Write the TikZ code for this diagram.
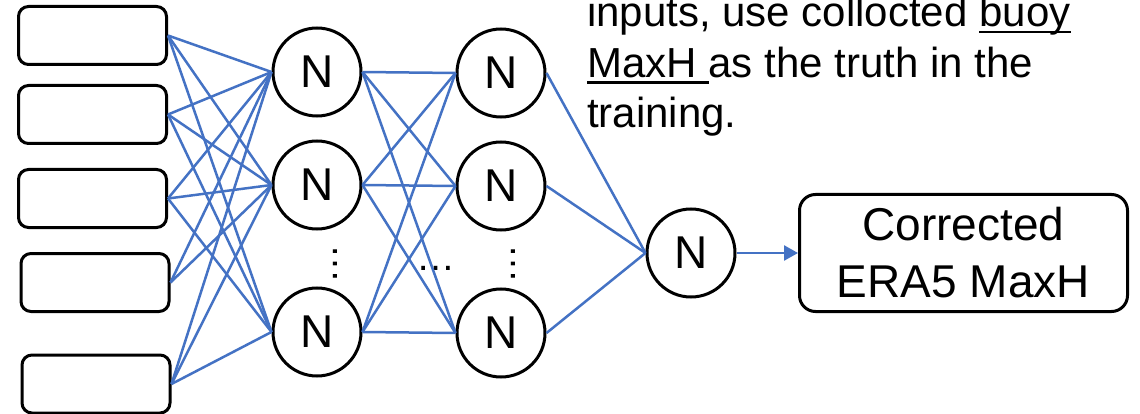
\documentclass[tikz,border=0pt]{standalone}
\usepackage{fontspec}
\setmainfont{Liberation Sans}
\usetikzlibrary{arrows.meta}
\definecolor{linkblue}{HTML}{4472C4}
\newcommand{\ulx}[1]{\setbox0\hbox{#1}\rlap{\rule[-6.5pt]{\wd0}{2.5pt}}\box0}
\begin{document}
\begin{tikzpicture}[x=1pt,y=-1pt,
  inbox/.style={draw=black,line width=3pt,rounded corners=10pt,minimum width=148pt,minimum height=58pt,inner sep=0pt},
  neuron/.style={draw=black,circle,line width=3pt,minimum size=88pt,inner sep=0pt,font=\fontsize{46}{46}\selectfont},
  link/.style={draw=linkblue,line width=2.5pt},
  dotsn/.style={inner sep=0pt,font=\fontsize{39}{39}\selectfont}
]
\fill[white] (0,0) rectangle (1140,414);
\useasboundingbox (0,0) rectangle (1140,414);

% input boxes
\node[inbox] (i1) at (92.5,35.5) {};
\node[inbox] (i2) at (92.5,114.5) {};
\node[inbox] (i3) at (92.5,198.5) {};
\node[inbox] (i4) at (95,282.5) {};
\node[inbox] (i5) at (96,384) {};

% hidden layer 1
\node[neuron] (a1) at (317,72) {N};
\node[neuron] (a2) at (317,185) {N};
\node[neuron] (a3) at (317,332) {N};

% hidden layer 2
\node[neuron] (b1) at (501,73) {N};
\node[neuron] (b2) at (501,186) {N};
\node[neuron] (b3) at (501,333) {N};

% output neuron
\node[neuron] (o) at (691,253) {N};

% result box
\node[draw=black,line width=3pt,rounded corners=16pt,minimum width=328pt,minimum height=117pt,align=center,inner sep=0pt,font=\fontsize{46}{57}\selectfont] (res) at (963.5,253) {Corrected\\ERA5 MaxH};

% dots
\node[dotsn,rotate=90,anchor=base] (v1) at (337,264) {…};
\node[dotsn,rotate=90,anchor=base] (v2) at (515,264) {…};
\node[dotsn,anchor=base] (h1) at (436,270) {…};

% note text (anchor on the baseline of the last line)
\node[anchor=base west,align=left,inner sep=0pt,font=\fontsize{42}{50.5}\selectfont] (note) at (587,128)
  {inputs, use collocted \ulx{buoy}\\\ulx{MaxH\ }as the truth in the\\training.};

% connections input -> layer 1
\foreach \s in {i1,i2,i3,i5}{
  \foreach \t in {a1,a2,a3}{
    \draw[link] (\s.east) -- (\t.west);
  }
}
\draw[link] (i4.east) -- (a1.west);
\draw[link] (i4.east) -- (a2.west);

% layer 1 -> layer 2
\foreach \s in {a1,a2,a3}{
  \foreach \t in {b1,b2,b3}{
    \draw[link] (\s.east) -- (\t.west);
  }
}

% layer 2 -> output
\foreach \s in {b1,b2,b3}{
  \draw[link] (\s.east) -- (o.west);
}

% output arrow
\draw[link,-{Triangle[length=14pt,width=15pt]}] (o.east) -- (res.west);
\end{tikzpicture}
\end{document}
